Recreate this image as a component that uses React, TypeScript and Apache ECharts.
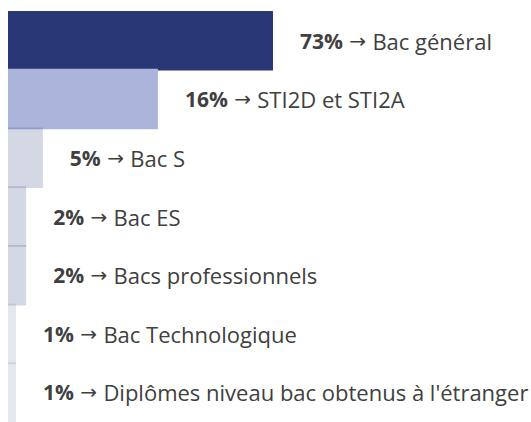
import React, { useEffect, useRef } from "react";
import * as echarts from "echarts";

const categories = [
  "Bac général",
  "STI2D et STI2A",
  "Bac S",
  "Bac ES",
  "Bacs professionnels",
  "Bac Technologique",
  "Diplômes niveau bac obtenus à l'étranger",
];
const percentValues = [73, 16, 5, 2, 2, 1, 1];
// displayed bar lengths (axis units, max 100)
const barLengths = [73, 41.3, 9.6, 5, 5, 2.2, 2.2];
const barColors = [
  "#2a3777",
  "#abb5dc",
  "rgba(42,55,119,0.2)",
  "rgba(42,55,119,0.2)",
  "rgba(42,55,119,0.2)",
  "rgba(42,55,119,0.12)",
  "rgba(42,55,119,0.12)",
];

export default function App() {
  const ref = useRef<HTMLDivElement>(null);
  useEffect(() => {
    if (!ref.current) return;
    const chart = echarts.init(ref.current, null, { renderer: "svg" });
    const band = 416 / categories.length;
    chart.setOption({
      animation: false,
      grid: { left: 8, top: 11, width: 363, height: 416 },
      xAxis: { type: "value", min: 0, max: 100, show: false },
      yAxis: {
        type: "category",
        data: categories,
        inverse: true,
        show: false,
      },
      series: [
        {
          type: "bar",
          barWidth: band + 1,
          data: barLengths.map((v, i) => ({
            value: v,
            itemStyle: { color: barColors[i] },
            label: {
              show: true,
              position: "right",
              distance: 27,
              formatter: () =>
                `{b|${percentValues[i]}%}{a| → }{t|${categories[i]}}`,
              rich: {
                b: { fontFamily: "Open Sans", fontSize: 21, fontWeight: 700, color: "#404040" },
                a: { fontFamily: "DejaVu Sans", fontSize: 20, color: "#404040" },
                t: { fontFamily: "Open Sans", fontSize: 22, color: "#404040" },
              },
            },
          })),
        },
      ],
    });
    return () => chart.dispose();
  }, []);
  return (
    <div
      ref={ref}
      style={{ position: "absolute", left: 0, top: 0, width: 531, height: 422 }}
    />
  );
}
